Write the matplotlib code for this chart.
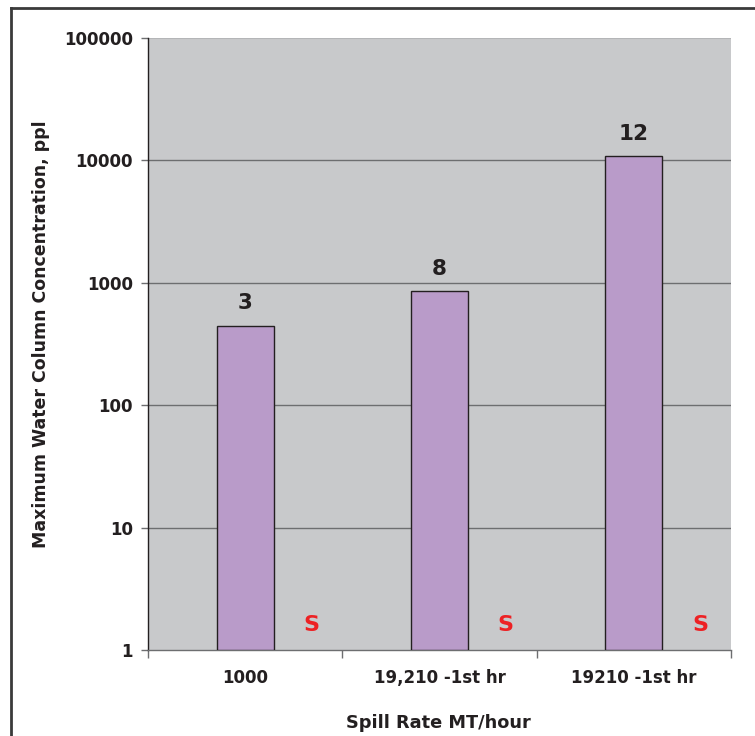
import matplotlib
matplotlib.use("Agg")
import matplotlib.pyplot as plt
from matplotlib.lines import Line2D
import numpy as np

categories = ["1000", "19,210 -1st hr", "19210 -1st hr"]
concentrations = [444, 857, 10860]
bar_labels = ["3", "8", "12"]
marker_text = ["S", "S", "S"]
marker_level = [1.6, 1.6, 1.6]

plt.rcParams["font.family"] = "DejaVu Sans"
plt.rcParams["font.weight"] = "bold"

W, H = 755, 736
fig = plt.figure(figsize=(W / 100, H / 100), dpi=100)
ax = fig.add_axes([148 / W, 1 - 650 / H, (731 - 148) / W, (650 - 38) / H])

ax.set_facecolor("#c8c9cb")
ax.set_yscale("log")
ax.set_ylim(1, 100000)
ax.set_xlim(-0.5, len(categories) - 0.5)

x = np.arange(len(categories))
bars = ax.bar(x, concentrations, width=0.295, bottom=1, color="#b99bc9",
              edgecolor="#231f20", linewidth=1.0, zorder=3)

for xi, v, lab in zip(x, concentrations, bar_labels):
    ax.annotate(lab, (xi, v), xytext=(0, 9), textcoords="offset points",
                ha="center", va="bottom", fontsize=15.5, fontweight="bold",
                color="#231f20", zorder=4)

for xi, s, lv in zip(x, marker_text, marker_level):
    ax.text(xi + 0.34, lv, s, ha="center", va="center", fontsize=16,
            fontweight="bold", color="#ed2124", zorder=4)

# decade ticks with gridlines between the axis limits
yt = [1, 10, 100, 1000, 10000, 100000]
ax.set_yticks(yt)
ax.set_yticklabels([str(v) for v in yt])
ax.yaxis.set_minor_locator(matplotlib.ticker.NullLocator())
for v in yt[1:-1]:
    ax.axhline(v, color="#6d6e70", linewidth=1.0, zorder=1)
ax.axhline(yt[-1], color="#b4b5b7", linewidth=1.5, zorder=1)

# category boundary ticks on x
ax.set_xticks(x)
ax.set_xticklabels(categories)
ax.tick_params(axis="x", length=0, pad=14, labelsize=12)
ax.set_xticks(np.arange(len(categories) + 1) - 0.5, minor=True)
ax.tick_params(axis="x", which="minor", length=6, color="#6d6e70", width=1.0)
ax.tick_params(axis="y", length=5, color="#6d6e70", width=1.0, pad=6, labelsize=12)
for lbl in ax.get_xticklabels() + ax.get_yticklabels():
    lbl.set_fontweight("bold")
    lbl.set_color("#231f20")

for side in ("top", "right"):
    ax.spines[side].set_visible(False)
ax.spines["left"].set_color("#231f20")
ax.spines["left"].set_linewidth(1.0)
ax.spines["bottom"].set_color("#6d6e70")
ax.spines["bottom"].set_linewidth(1.0)

fig.text(438 / W, 1 - 723 / H, "Spill Rate MT/hour", ha="center", va="center",
         fontsize=12.8, fontweight="bold", color="#231f20")
fig.text(41 / W, 1 - 334 / H, "Maximum Water Column Concentration, ppl",
         ha="center", va="center", rotation=90, fontsize=12.5,
         fontweight="bold", color="#231f20")

# outer frame (left and top edges)
fig.add_artist(Line2D([11 / W, 11 / W], [0, 1 - 8 / H], transform=fig.transFigure,
                      color="#3a3a3a", linewidth=2.0))
fig.add_artist(Line2D([11 / W, 1], [1 - 8 / H, 1 - 8 / H], transform=fig.transFigure,
                      color="#3a3a3a", linewidth=2.0))

fig.savefig("out.png", dpi=100, facecolor="white")
